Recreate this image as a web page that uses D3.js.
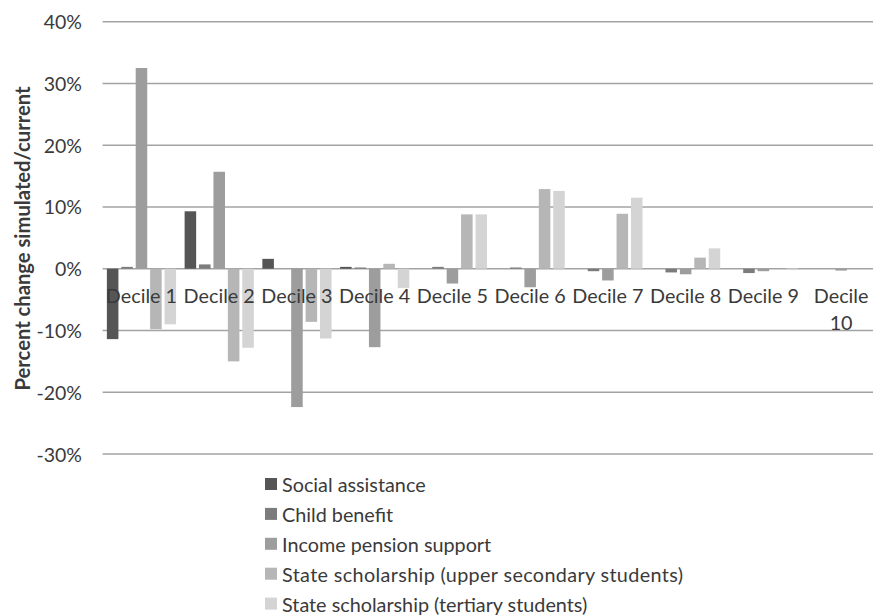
<!DOCTYPE html>
<html>
<head>
<meta charset="utf-8">
<script src="https://cdn.jsdelivr.net/npm/d3@7"></script>
<style>
  html, body { margin: 0; padding: 0; background: #fff; }
  svg { display: block; }
  text { font-family: Lato, "Open Sans", sans-serif; fill: #3a3a3a; }
</style>
</head>
<body>
<svg id="chart" width="873" height="616"></svg>
<script>
// Categories (income deciles)
const deciles = ["Decile 1", "Decile 2", "Decile 3", "Decile 4", "Decile 5",
                 "Decile 6", "Decile 7", "Decile 8", "Decile 9", "Decile 10"];

// Series names
const seriesNames = [
  "Social assistance",
  "Child benefit",
  "Income pension support",
  "State scholarship (upper secondary students)",
  "State scholarship (tertiary students)"
];

// Percent change simulated/current, per decile
const socialAssistance = [-11.4, 9.3, 1.6, 0.3, 0, 0, 0, 0, 0, 0];
const childBenefit     = [0.3, 0.7, 0, 0.2, 0.3, 0.2, -0.4, -0.6, -0.7, 0];
const incomePension    = [32.5, 15.7, -22.4, -12.7, -2.4, -3.0, -1.9, -0.9, -0.4, -0.3];
const scholarshipUpper = [-9.8, -15.0, -8.6, 0.8, 8.8, 12.9, 8.9, 1.8, 0, 0];
const scholarshipTert  = [-9.0, -12.8, -11.3, -3.1, 8.8, 12.6, 11.5, 3.3, 0.1, 0];

// Y axis ticks
const yTicks = [-30, -20, -10, 0, 10, 20, 30, 40];

const seriesValues = [socialAssistance, childBenefit, incomePension, scholarshipUpper, scholarshipTert];
const colors = ["#555555", "#7c7c7c", "#9d9d9d", "#b6b6b6", "#d4d4d4"];

const svg = d3.select("#chart");

const plotLeft = 102.6, plotRight = 880;
const x0 = d3.scaleBand().domain(deciles).range([plotLeft, plotRight]).padding(0);
const bw = x0.bandwidth();
const x1 = d3.scaleBand().domain(seriesNames)
  .range([bw * 0.055, bw * 0.945]).paddingInner(0.2).paddingOuter(0);
const y = d3.scaleLinear().domain([-30, 40]).range([454, 21.7]);
const color = d3.scaleOrdinal().domain(seriesNames).range(colors);

// Horizontal gridlines
svg.append("g").selectAll("line").data(yTicks).join("line")
  .attr("x1", plotLeft).attr("x2", plotRight)
  .attr("y1", d => y(d)).attr("y2", d => y(d))
  .attr("stroke", "#a3a3a3").attr("stroke-width", 1.6);

// Y tick labels
svg.append("g").selectAll("text").data(yTicks).join("text")
  .attr("x", 82).attr("y", d => y(d))
  .attr("text-anchor", "end").attr("dominant-baseline", "central")
  .attr("font-size", 19.5)
  .text(d => d + "%");

// Bars
const rows = deciles.map((d, i) => ({
  decile: d,
  values: seriesNames.map((s, j) => ({ series: s, value: seriesValues[j][i] }))
}));

svg.append("g").selectAll("g").data(rows).join("g")
  .attr("transform", d => `translate(${x0(d.decile)},0)`)
  .selectAll("rect").data(d => d.values).join("rect")
  .attr("x", d => x1(d.series))
  .attr("width", x1.bandwidth())
  .attr("y", d => y(Math.max(0, d.value)))
  .attr("height", d => Math.abs(y(d.value) - y(0)))
  .attr("fill", d => color(d.series));

// Category labels (drawn over bars); long labels wrap to two lines
const catG = svg.append("g");
deciles.forEach(d => {
  const cx = x0(d) + bw / 2;
  const t = catG.append("text")
    .attr("x", cx).attr("y", 303)
    .attr("text-anchor", "middle").attr("font-size", 19.8).attr("fill", "#2e2e2e");
  const parts = d === "Decile 10" ? ["Decile", "10"] : [d];
  parts.forEach((p, k) => {
    t.append("tspan").attr("x", cx).attr("dy", k === 0 ? 0 : 27).text(p);
  });
});

// Y axis title
svg.append("text")
  .attr("transform", "translate(30,238.5) rotate(-90)")
  .attr("text-anchor", "middle")
  .attr("font-size", 20.2).attr("font-weight", "bold").attr("fill", "#262626")
  .text("Percent change simulated/current");

// Legend
const legend = svg.append("g").selectAll("g").data(seriesNames).join("g")
  .attr("transform", (d, i) => `translate(265,${484 + i * 29.9})`);
legend.append("rect")
  .attr("x", 0).attr("y", -6).attr("width", 12).attr("height", 12)
  .attr("fill", d => color(d));
legend.append("text")
  .attr("x", 17).attr("y", 0).attr("dominant-baseline", "central")
  .attr("font-size", 19.8)
  .attr("textLength", (d, i) => i === 3 ? 401 : null)
  .text(d => d);
</script>
</body>
</html>
